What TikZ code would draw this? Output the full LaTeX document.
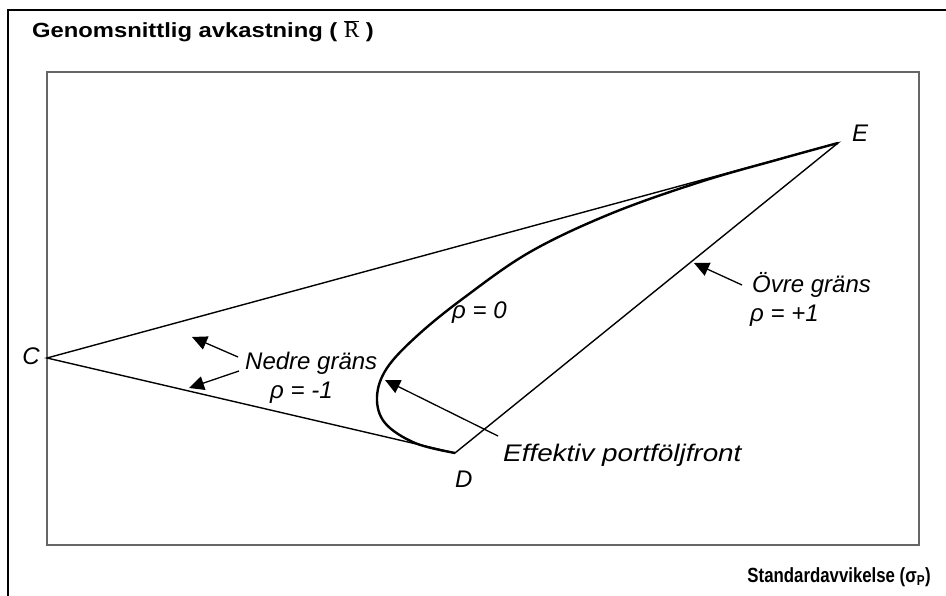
\documentclass[tikz,border=0pt]{standalone}
\usepackage{fontspec}
\setmainfont{Liberation Sans}
\newfontfamily\rfont{Liberation Serif}
\newfontfamily\breddfont[FakeStretch=1.16]{Liberation Sans}
\newfontfamily\smalfont[FakeStretch=0.82]{Liberation Sans}
\usetikzlibrary{arrows.meta}

\begin{document}
\begin{tikzpicture}[x=1pt,y=-1pt,
		linje/.style={line width=1.4pt},
		pil/.style={line width=1.3pt,-{Triangle[length=15pt,width=14pt]}},
		etikett/.style={font=\fontsize{24}{28}\selectfont\itshape,inner sep=0pt},
		rubrik/.style={font=\fontsize{20.5}{24}\selectfont\bfseries,inner sep=0pt}]
			\useasboundingbox (0,0) rectangle (946,596);
			\draw[line width=2.6pt] (8,610) -- (8,10) -- (960,10);
			\draw[gray!80!black,line width=1.5pt] (47,72) rectangle (919,545);
			\node[rubrik,anchor=base west] (ytitel) at (32,38) {\breddfont Genomsnittlig avkastning ( $\overline{\hbox{\mdseries\rfont\fontsize{23}{26}\selectfont R}}$ )};
			\node[rubrik,anchor=base east] (xtitel) at (931,582) {\smalfont Standardavvikelse (σ\textsubscript{P})};
			
			\coordinate (C) at (47,358);
			\coordinate (D) at (455,453);
			\coordinate (E) at (838,143);
			\node[etikett,anchor=base east] (Ctext) at (40,365) {C};
			\node[etikett,anchor=base west] (Dtext) at (455,487) {D};
			\node[etikett,anchor=base west] (Etext) at (852,142) {E};
			
			\draw[linje] (C) -- (D) -- (E) -- cycle;
			\draw[line width=2.4pt,line join=round] plot[smooth,tension=0.6] coordinates {
				(455,453) (415,443) (385,423) (377,397) (387,368) (418,335) (465,297) (530,252) (610,214) (700,182) (780,159) (838,143)};
			
			\node[etikett,anchor=base west] (nedre) at (245,370) {Nedre gräns};
			\node[etikett,anchor=base west] (rho1) at (270,398) {ρ = -1};
			\node[etikett,anchor=base west] (rho0) at (452,319) {ρ = 0};
			\node[etikett,anchor=base west] (front) at (503,461) {\breddfont\itshape Effektiv portföljfront};
			\node[etikett,anchor=base west] (ovre) at (752,293) {Övre gräns};
			\node[etikett,anchor=base west] (rho2) at (750,322) {ρ = +1};
			
			\coordinate (n1) at (238,357);
			\coordinate (n2) at (239,371);
			\coordinate (f1) at (498,436);
			\coordinate (o1) at (742,285);
			\coordinate (CE) at (192,337);
			\coordinate (CD) at (189,388);
			\coordinate (DE) at (694,263);
			\coordinate (kurva) at (385,380);
			\draw[pil] (n1) -- (CE);
			\draw[pil] (n2) -- (CD);
			\draw[pil] (f1) -- (kurva);
			\draw[pil] (o1) -- (DE);
		\end{tikzpicture}
\end{document}
